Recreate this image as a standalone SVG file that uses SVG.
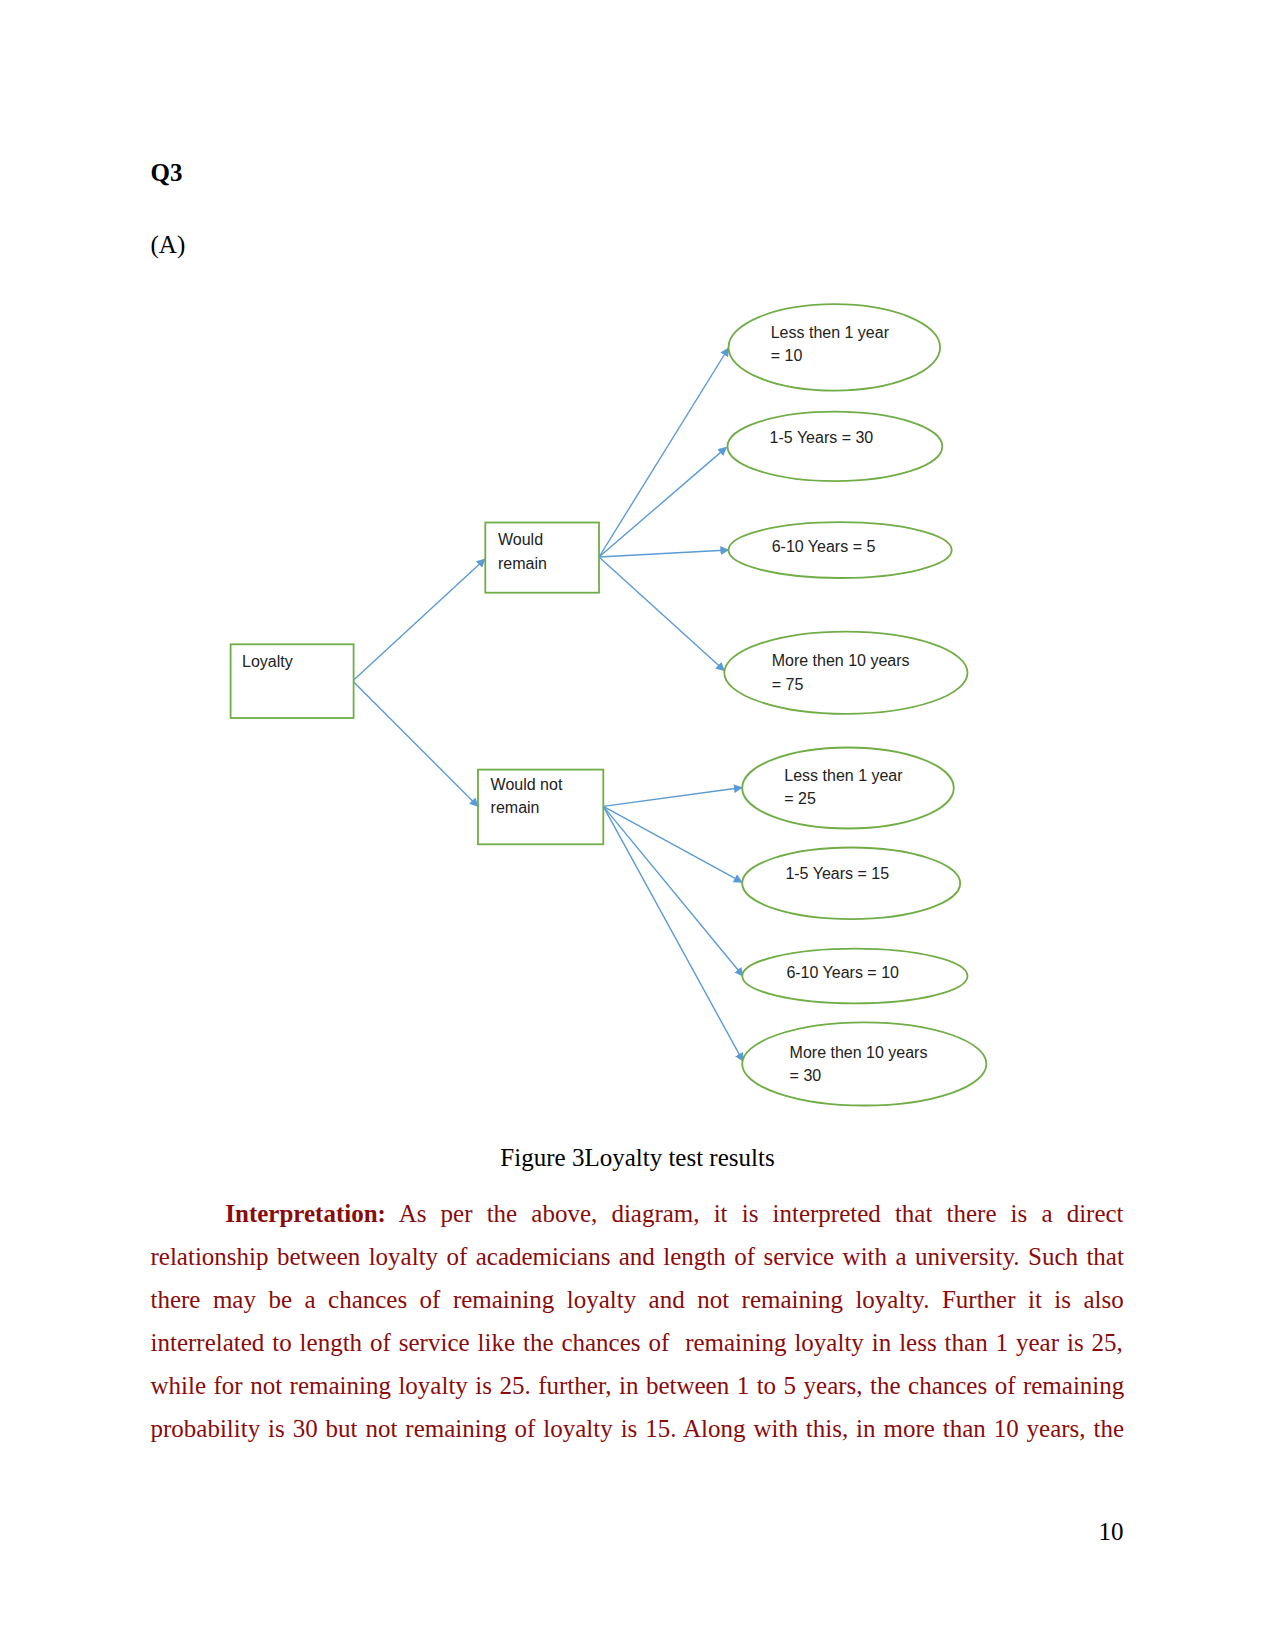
<svg xmlns="http://www.w3.org/2000/svg" width="1275" height="1651" viewBox="0 0 1275 1651">
<defs>
<style>
.doc{font-family:"Liberation Serif","Times New Roman",serif;font-size:25px;fill:#000}
.body{font-family:"Liberation Serif","Times New Roman",serif;font-size:25px;fill:#8B0A0A}
.lbl{font-family:"Liberation Sans",Arial,sans-serif;font-size:16px;fill:#222}
.box{fill:#fff;stroke:#70AD47;stroke-width:1.8}
.ell{fill:#fff;stroke:#70AD47;stroke-width:1.8}
.con{fill:none;stroke:#5B9BD5;stroke-width:1.4;marker-end:url(#arr)}
</style>
<marker id="arr" viewBox="0 0 10 10" refX="9" refY="5" markerWidth="9" markerHeight="9" markerUnits="userSpaceOnUse" orient="auto">
<path d="M0,0 L10,5 L0,10 z" fill="#5B9BD5"/>
</marker>
</defs>
<rect width="1275" height="1651" fill="#fff"/>
<text class="doc" x="150.5" y="181" font-weight="bold">Q3</text>
<text class="doc" x="150.5" y="253">(A)</text>

<g id="connectors">
<line class="con" x1="353.7" y1="680" x2="485" y2="559"/>
<line class="con" x1="353.7" y1="682" x2="478" y2="806.4"/>
<line class="con" x1="599" y1="557" x2="728.5" y2="348"/>
<line class="con" x1="599" y1="557" x2="726.4" y2="447.4"/>
<line class="con" x1="599" y1="557" x2="728.5" y2="550"/>
<line class="con" x1="599" y1="557" x2="724.3" y2="670.6"/>
<line class="con" x1="603.3" y1="806.4" x2="742" y2="787.5"/>
<line class="con" x1="603.3" y1="806.4" x2="742" y2="882.2"/>
<line class="con" x1="603.3" y1="806.4" x2="743" y2="976"/>
<line class="con" x1="603.3" y1="806.4" x2="743" y2="1061.2"/>
</g>

<g id="loyalty">
<rect class="box" x="230.6" y="644.3" width="123" height="73.7"/>
<text class="lbl" x="242" y="667">Loyalty</text>
</g>
<g id="would-remain">
<rect class="box" x="485.3" y="522.5" width="113.7" height="70.2"/>
<text class="lbl" x="498" y="545">Would</text>
<text class="lbl" x="498" y="569">remain</text>
</g>
<g id="would-not-remain">
<rect class="box" x="478" y="769.6" width="125.3" height="74.7"/>
<text class="lbl" x="490.6" y="790">Would not</text>
<text class="lbl" x="490.6" y="813">remain</text>
</g>

<g id="wr-less1">
<ellipse class="ell" cx="834.3" cy="347.4" rx="105.8" ry="43.2"/>
<text class="lbl" x="770.7" y="338">Less then 1 year</text>
<text class="lbl" x="770.7" y="361">= 10</text>
</g>
<g id="wr-1-5">
<ellipse class="ell" cx="834.9" cy="446.4" rx="107.4" ry="34.7"/>
<text class="lbl" x="769.6" y="442.5">1-5 Years = 30</text>
</g>
<g id="wr-6-10">
<ellipse class="ell" cx="840.1" cy="550.1" rx="111.6" ry="27.9"/>
<text class="lbl" x="771.7" y="552">6-10 Years = 5</text>
</g>
<g id="wr-more10">
<ellipse class="ell" cx="845.9" cy="672.7" rx="121.6" ry="41.1"/>
<text class="lbl" x="771.7" y="666">More then 10 years</text>
<text class="lbl" x="771.7" y="690">= 75</text>
</g>
<g id="wnr-less1">
<ellipse class="ell" cx="848" cy="788" rx="105.8" ry="40.5"/>
<text class="lbl" x="784.3" y="781">Less then 1 year</text>
<text class="lbl" x="784.3" y="804">= 25</text>
</g>
<g id="wnr-1-5">
<ellipse class="ell" cx="851.2" cy="883.3" rx="109" ry="35.8"/>
<text class="lbl" x="785.4" y="878.5">1-5 Years = 15</text>
</g>
<g id="wnr-6-10">
<ellipse class="ell" cx="854.9" cy="976" rx="112.6" ry="27.4"/>
<text class="lbl" x="786.4" y="977.5">6-10 Years = 10</text>
</g>
<g id="wnr-more10">
<ellipse class="ell" cx="864.3" cy="1063.9" rx="122.1" ry="41.6"/>
<text class="lbl" x="789.6" y="1057.5">More then 10 years</text>
<text class="lbl" x="789.6" y="1080.5">= 30</text>
</g>

<text class="doc" x="637.5" y="1166" text-anchor="middle">Figure 3Loyalty test results</text>

<text class="body" x="225.3" y="1222" word-spacing="7.88"><tspan font-weight="bold">Interpretation:</tspan> As per the above, diagram, it is interpreted that there is a direct</text>
<text class="body" x="150.5" y="1265" word-spacing="2.16">relationship between loyalty of academicians and length of service with a university. Such that</text>
<text class="body" x="150.5" y="1308" word-spacing="6.21">there may be a chances of remaining loyalty and not remaining loyalty. Further it is also</text>
<text class="body" x="150.5" y="1351" word-spacing="1.68" xml:space="preserve">interrelated to length of service like the chances of  remaining loyalty in less than 1 year is 25,</text>
<text class="body" x="150.5" y="1394" word-spacing="1.23">while for not remaining loyalty is 25. further, in between 1 to 5 years, the chances of remaining</text>
<text class="body" x="150.5" y="1437" word-spacing="1.66">probability is 30 but not remaining of loyalty is 15. Along with this, in more than 10 years, the</text>

<text class="doc" x="1123.4" y="1540" text-anchor="end">10</text>
</svg>
